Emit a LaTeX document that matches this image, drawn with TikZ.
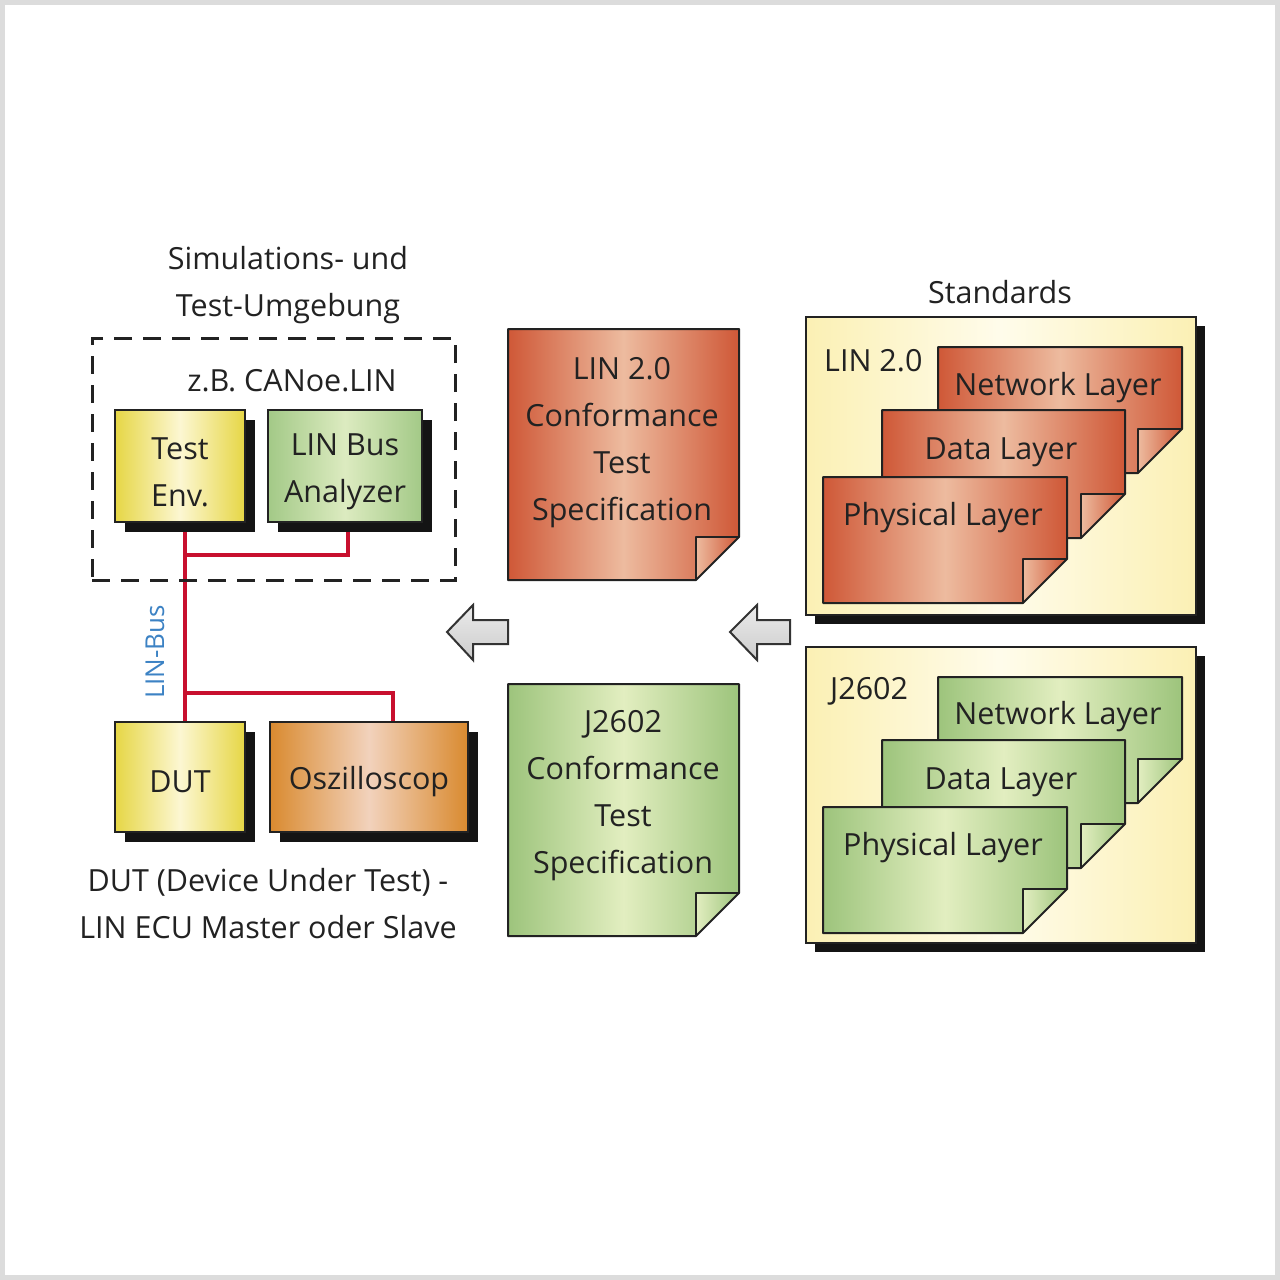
\documentclass[tikz,border=0pt]{standalone}
\usepackage{fontspec}
\setmainfont{Open Sans}
\usetikzlibrary{shadows}
\pgfdeclarelayer{bg}
\pgfsetlayers{bg,main}
\definecolor{txt}{HTML}{222222}
\definecolor{frame}{HTML}{DCDCDC}
\definecolor{bus}{HTML}{C8102E}
\definecolor{busblue}{HTML}{3C82C4}
\definecolor{yedge}{HTML}{E6D645}
\definecolor{ymid}{HTML}{FCF7D2}
\definecolor{gedge}{HTML}{A3C987}
\definecolor{gmid}{HTML}{DCEBC0}
\definecolor{oedge}{HTML}{D98A2F}
\definecolor{omid}{HTML}{F2D2BC}
\definecolor{redge}{HTML}{CF5837}
\definecolor{rmid}{HTML}{EDBB9F}
\definecolor{dgedge}{HTML}{9DC47C}
\definecolor{dgmid}{HTML}{E2EEC0}
\definecolor{sedge}{HTML}{FBF0B4}
\definecolor{smid}{HTML}{FFFCEB}
\definecolor{outl}{HTML}{222222}
\newcommand\DocPage[7]{%
  \shade[left color=#6, right color=#6, middle color=#7]
    (#1,#2) -- (#3,#2) -- (#3,#4-#5) -- (#3-#5,#4) -- (#1,#4) -- cycle;
  \shade[left color=#7, right color=#6]
    (#3-#5,#4) -- (#3-#5,#4-#5) -- (#3,#4-#5) -- cycle;
  \draw[outl, line width=2pt, line join=round]
    (#1,#2) -- (#3,#2) -- (#3,#4-#5) -- (#3-#5,#4) -- (#1,#4) -- cycle;
  \draw[outl, line width=2pt, line join=round]
    (#3-#5,#4) -- (#3-#5,#4-#5) -- (#3,#4-#5);
}
\tikzset{
  boxst/.style 2 args={draw=outl, line width=2pt, minimum width=#1, minimum height=#2,
    inner sep=0pt, align=center,
    drop shadow={shadow xshift=10pt, shadow yshift=-10pt, fill=black!92, opacity=1}},
  stdbox/.style={draw=outl, line width=2pt, minimum width=390pt, minimum height=298pt,
    inner sep=0pt, left color=sedge, right color=sedge, middle color=smid,
    drop shadow={shadow xshift=9pt, shadow yshift=-9pt, fill=black!92, opacity=1}},
  lbl/.style={inner sep=0pt, align=center},
  busline/.style={draw=bus, line width=3.5pt},
  bigarrow/.style={draw=black!80, line width=2pt, line join=miter, top color=white!92!black, bottom color=black!20},
}
\begin{document}
\begin{tikzpicture}[x=1pt,y=-1pt, font=\fontsize{30.5}{47}\selectfont, text=txt]
\useasboundingbox (0,0) rectangle (1280,1280);
\begin{pgfonlayer}{bg}
\fill[white] (0,0) rectangle (1280,1280);
\end{pgfonlayer}
\draw[frame, line width=5pt] (2.5,2.5) rectangle (1277.5,1277.5);

% left group
\node[lbl] (simtitle) at (288,285) {Simulations- und\\Test-Umgebung};
\node[draw=outl, line width=3pt, dash pattern=on 18pt off 11pt, minimum width=363pt, minimum height=242pt, inner sep=0pt] (simbox) at (273.5,459) {};
\node[lbl] (canoe) at (292,381) {z.B. CANoe.LIN};
\node[boxst={130pt}{112pt}, left color=yedge, right color=yedge, middle color=ymid] (te) at (180,466) {};
\node[lbl] (tetxt) at (te.center) [yshift=-6pt] {Test\\Env.};
\node[boxst={154pt}{112pt}, left color=gedge, right color=gedge, middle color=gmid] (an) at (345,466) {};
\node[lbl] (antxt) at (an.center) [yshift=-6pt] {LIN Bus\\Analyzer};
\node[boxst={130pt}{110pt}, left color=yedge, right color=yedge, middle color=ymid] (dut) at (180,777) {};
\node[lbl] (duttxt) at (dut.center) [yshift=-5pt] {DUT};
\node[boxst={198pt}{110pt}, left color=oedge, right color=oedge, middle color=omid] (osz) at (369,777) {};
\node[lbl] (osztxt) at (osz.center) [yshift=-5pt] {Oszilloscop};
\node[lbl] (dutcap) at (268,904) {DUT (Device Under Test) -\\LIN ECU Master oder Slave};
\node[lbl, text=busblue, rotate=90, font=\fontsize{26}{30}\selectfont] (linbus) at (155,652) {LIN-Bus};

\coordinate (j1) at (185,555);
\coordinate (j2) at (185,693);
\begin{pgfonlayer}{bg}
\draw[busline] (te.south -| j1) -- (j1) -- (j2) -- (dut.north -| j1);
\draw[busline] (j1) -| ([xshift=3pt]an.south);
\draw[busline] (j2) -| ([xshift=24pt]osz.north);
\end{pgfonlayer}

% arrows
\draw[bigarrow] (447,632) -- (473,605) -- (473,620) -- (508,620) -- (508,644) -- (473,644) -- (473,660) -- cycle;
\draw[bigarrow] (730,632) -- (757,605) -- (757,620) -- (790,620) -- (790,644) -- (757,644) -- (757,660) -- cycle;

% conformance docs
\DocPage{508}{329}{739}{580}{43}{redge}{rmid}
\node[lbl] (lincts) at (622,443) {LIN 2.0\\Conformance\\Test\\Specification};
\DocPage{508}{684}{739}{936}{43}{dgedge}{dgmid}
\node[lbl] (jcts) at (623,796) {J2602\\Conformance\\Test\\Specification};

% standards
\node[lbl] (stdtitle) at (1000,292) {Standards};
\node[stdbox] (std1) at (1001,466) {};
\node[lbl, anchor=west] (lin20) at (824,361) {LIN 2.0};
\DocPage{938}{347}{1182}{473}{44}{redge}{rmid}
\node[lbl] (nl1) at (1058,388) {Network Layer};
\DocPage{882}{410}{1125}{538}{44}{redge}{rmid}
\node[lbl] (dl1) at (1001,452) {Data Layer};
\DocPage{823}{477}{1067}{603}{44}{redge}{rmid}
\node[lbl] (pl1) at (943,518) {Physical Layer};

\node[stdbox, minimum height=296pt] (std2) at (1001,795) {};
\node[lbl, anchor=west] (j2602) at (830,691) {J2602};
\DocPage{938}{677}{1182}{803}{44}{dgedge}{dgmid}
\node[lbl] (nl2) at (1058,717) {Network Layer};
\DocPage{882}{740}{1125}{868}{44}{dgedge}{dgmid}
\node[lbl] (dl2) at (1001,782) {Data Layer};
\DocPage{823}{807}{1067}{933}{44}{dgedge}{dgmid}
\node[lbl] (pl2) at (943,848) {Physical Layer};
\end{tikzpicture}
\end{document}
